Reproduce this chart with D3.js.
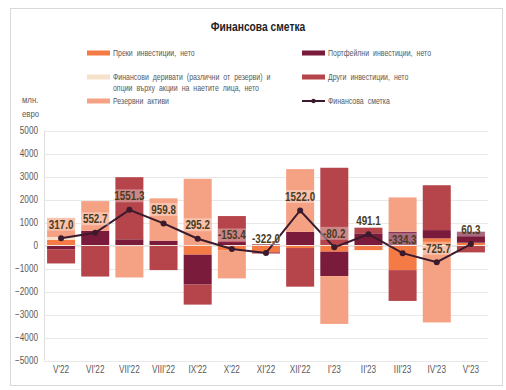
<!DOCTYPE html>
<html>
  <head>
    <meta charset="utf-8">
    <script src="https://d3js.org/d3.v7.min.js"></script>
    <style>
      body { margin: 0; background: #fff; }
      text { font-family: "Liberation Sans", Arial, sans-serif; }
    </style>
  </head>
  <body>
    <svg width="506" height="390"></svg>
</body>
</html>
<script>

const months = ["V'22", "VI'22", "VII'22", "VIII'22", "IX'22", "X'22", "XI'22", "XII'22", "I'23", "II'23", "III'23", "IV'23", "V'23"];
const direct      = [250,  -20,  -30,  -20, -400, -220, -290, -110, -270, -200, -1070,  310,  120];
const portfolio   = [-160, 640,  270,  210, -1300, 150,   60,  590, -1060, 530,   600,  360,  480];
const derivatives = [120,    0,    0,    0,    0,    0,    0,    0,    0,    0,     0,    0,    0];
const other       = [-620, -1330, 2700, -1050, -870, 1130, -60, -1680, 3380, 245, -1340, 1950, -300];
const reserves    = [830,  1290, -1360, 1840, 2900, -1210,  0,  2730, -2080,   0,  1490, -3345,   0];
const total       = [317.0, 552.7, 1551.3, 959.8, 295.2, -153.4, -322.0, 1522.0, -80.2, 491.1, -334.3, -725.7, 60.3];
const yTicks = [5000, 4000, 3000, 2000, 1000, 0, -1000, -2000, -3000, -4000, -5000];

const series = [
  {key: 'direct', name: 'Преки инвестиции, нето', color: '#F47B45', values: direct},
  {key: 'portfolio', name: 'Портфейлни инвестиции, нето', color: '#7B1B3C', values: portfolio},
  {key: 'deriv', name: 'Финансови деривати (различни от резерви) и|опции върху акции на наетите лица, нето', color: '#F6E2CB', values: derivatives},
  {key: 'other', name: 'Други инвестиции, нето', color: '#B5454B', values: other},
  {key: 'reserves', name: 'Резервни активи', color: '#F5A184', values: reserves}
];

const rows = months.map((m, i) => {
  const r = {month: m};
  series.forEach(s => r[s.key] = s.values[i]);
  return r;
});

const NARROW = 'scale(0.82,1)';
const svg = d3.select('svg');

// narrow text placed at x,y
function ntext(parent, px, py) {
  return parent.append('g')
    .attr('transform', `translate(${px},${py})`)
    .append('text')
    .attr('transform', NARROW);
}

// frame
svg.append('rect')
  .attr('x', 10.5).attr('y', 8.5)
  .attr('width', 492).attr('height', 377)
  .attr('fill', '#fff').attr('stroke', '#d9d9d9');

ntext(svg, 258, 31)
  .attr('text-anchor', 'middle')
  .style('font-size', '12.5px').style('font-weight', 'bold')
  .attr('fill', '#222')
  .text('Финансова сметка');

const x = d3.scaleBand().domain(months).range([44, 488]).paddingInner(0.18).paddingOuter(0.09);
const y = d3.scaleLinear().domain([-5000, 5000]).range([360.5, 130.5]);

// grid
svg.append('g').selectAll('line')
  .data(yTicks)
  .enter().append('line')
  .attr('x1', 44).attr('x2', 488)
  .attr('y1', d => Math.round(y(d)) + 0.5).attr('y2', d => Math.round(y(d)) + 0.5)
  .attr('stroke', '#e8e8e8');

svg.append('line')
  .attr('x1', 44.5).attr('x2', 44.5)
  .attr('y1', y(5000)).attr('y2', y(-5000))
  .attr('stroke', '#e0e0e0');

const yAxis = svg.append('g')
  .attr('transform', 'translate(38,0)')
  .call(d3.axisLeft(y).tickValues(yTicks).tickSize(0).tickPadding(0).tickFormat(d3.format('d')));
yAxis.select('.domain').remove();
yAxis.selectAll('text').style('font-size', '10px').attr('fill', '#595959').attr('transform', NARROW);

ntext(svg, 22, 103).style('font-size', '9.5px').attr('fill', '#595959').text('млн.');
ntext(svg, 22, 117).style('font-size', '9.5px').attr('fill', '#595959').text('евро');

// stacked bars
const stack = d3.stack().keys(series.map(s => s.key)).offset(d3.stackOffsetDiverging);
const stacked = stack(rows);

svg.append('g').selectAll('g')
  .data(stacked)
  .enter().append('g')
  .attr('fill', (d, i) => series[i].color)
  .selectAll('rect')
  .data(d => d)
  .enter().append('rect')
  .attr('x', d => x(d.data.month))
  .attr('width', x.bandwidth())
  .attr('y', d => y(Math.max(d[0], d[1])))
  .attr('height', d => Math.abs(y(d[0]) - y(d[1])));

// zero axis line over the bars
svg.append('line')
  .attr('x1', 44).attr('x2', 488)
  .attr('y1', y(0)).attr('y2', y(0))
  .attr('stroke', '#f1e6de').attr('stroke-width', 1.2);

// x labels
const xAxis = svg.append('g')
  .attr('transform', 'translate(0,366)')
  .call(d3.axisBottom(x).tickSize(0).tickPadding(0));
xAxis.select('.domain').remove();
xAxis.selectAll('text').style('font-size', '10px').attr('fill', '#595959').attr('dy', '0.71em').attr('transform', NARROW);

// financial account line
const cx = m => x(m) + x.bandwidth() / 2;
const line = d3.line().x((d, i) => cx(months[i])).y(d => y(d));
svg.append('path')
  .datum(total)
  .attr('d', line)
  .attr('fill', 'none')
  .attr('stroke', '#3A1A2C')
  .attr('stroke-width', 2);

svg.append('g').selectAll('circle')
  .data(total)
  .enter().append('circle')
  .attr('cx', (d, i) => cx(months[i]))
  .attr('cy', d => y(d))
  .attr('r', 3)
  .attr('fill', '#3A1A2C');

// data labels
const labels = svg.append('g').selectAll('g')
  .data(total)
  .enter().append('g')
  .attr('transform', (d, i) => `translate(${cx(months[i])},${y(d) - 14})`);

labels.append('rect')
  .attr('x', -14).attr('y', -6.5)
  .attr('width', 28).attr('height', 13)
  .attr('fill', '#fff').attr('fill-opacity', 0.35);

labels.append('text')
  .attr('text-anchor', 'middle')
  .attr('dy', '0.36em')
  .attr('transform', NARROW)
  .style('font-size', '12px').style('font-weight', 'bold')
  .attr('fill', '#4a3c1c')
  .text(d => d.toFixed(1));

// legend
const legendPos = [
  {x: 87, y: 53}, {x: 302, y: 53},
  {x: 87, y: 77}, {x: 302, y: 77},
  {x: 87, y: 101}
];
const legend = svg.append('g');
series.forEach((s, i) => {
  const p = legendPos[i];
  legend.append('rect')
    .attr('x', p.x).attr('y', p.y - 2.5)
    .attr('width', 23).attr('height', 5)
    .attr('fill', s.color);
  const t = ntext(legend, p.x + 26, p.y + 3)
    .style('font-size', '8.5px').style('word-spacing', '2.5px')
    .attr('fill', '#595959');
  s.name.split('|').forEach((part, j) => {
    t.append('tspan').attr('x', 0).attr('dy', j ? 11 : 0).text(part);
  });
});
legend.append('line')
  .attr('x1', 302).attr('x2', 325).attr('y1', 101).attr('y2', 101)
  .attr('stroke', '#3A1A2C').attr('stroke-width', 2);
legend.append('circle').attr('cx', 313.5).attr('cy', 101).attr('r', 2.2).attr('fill', '#3A1A2C');
ntext(legend, 328, 104)
  .style('font-size', '8.5px').style('word-spacing', '2.5px')
  .attr('fill', '#595959')
  .text('Финансова сметка');

</script>
